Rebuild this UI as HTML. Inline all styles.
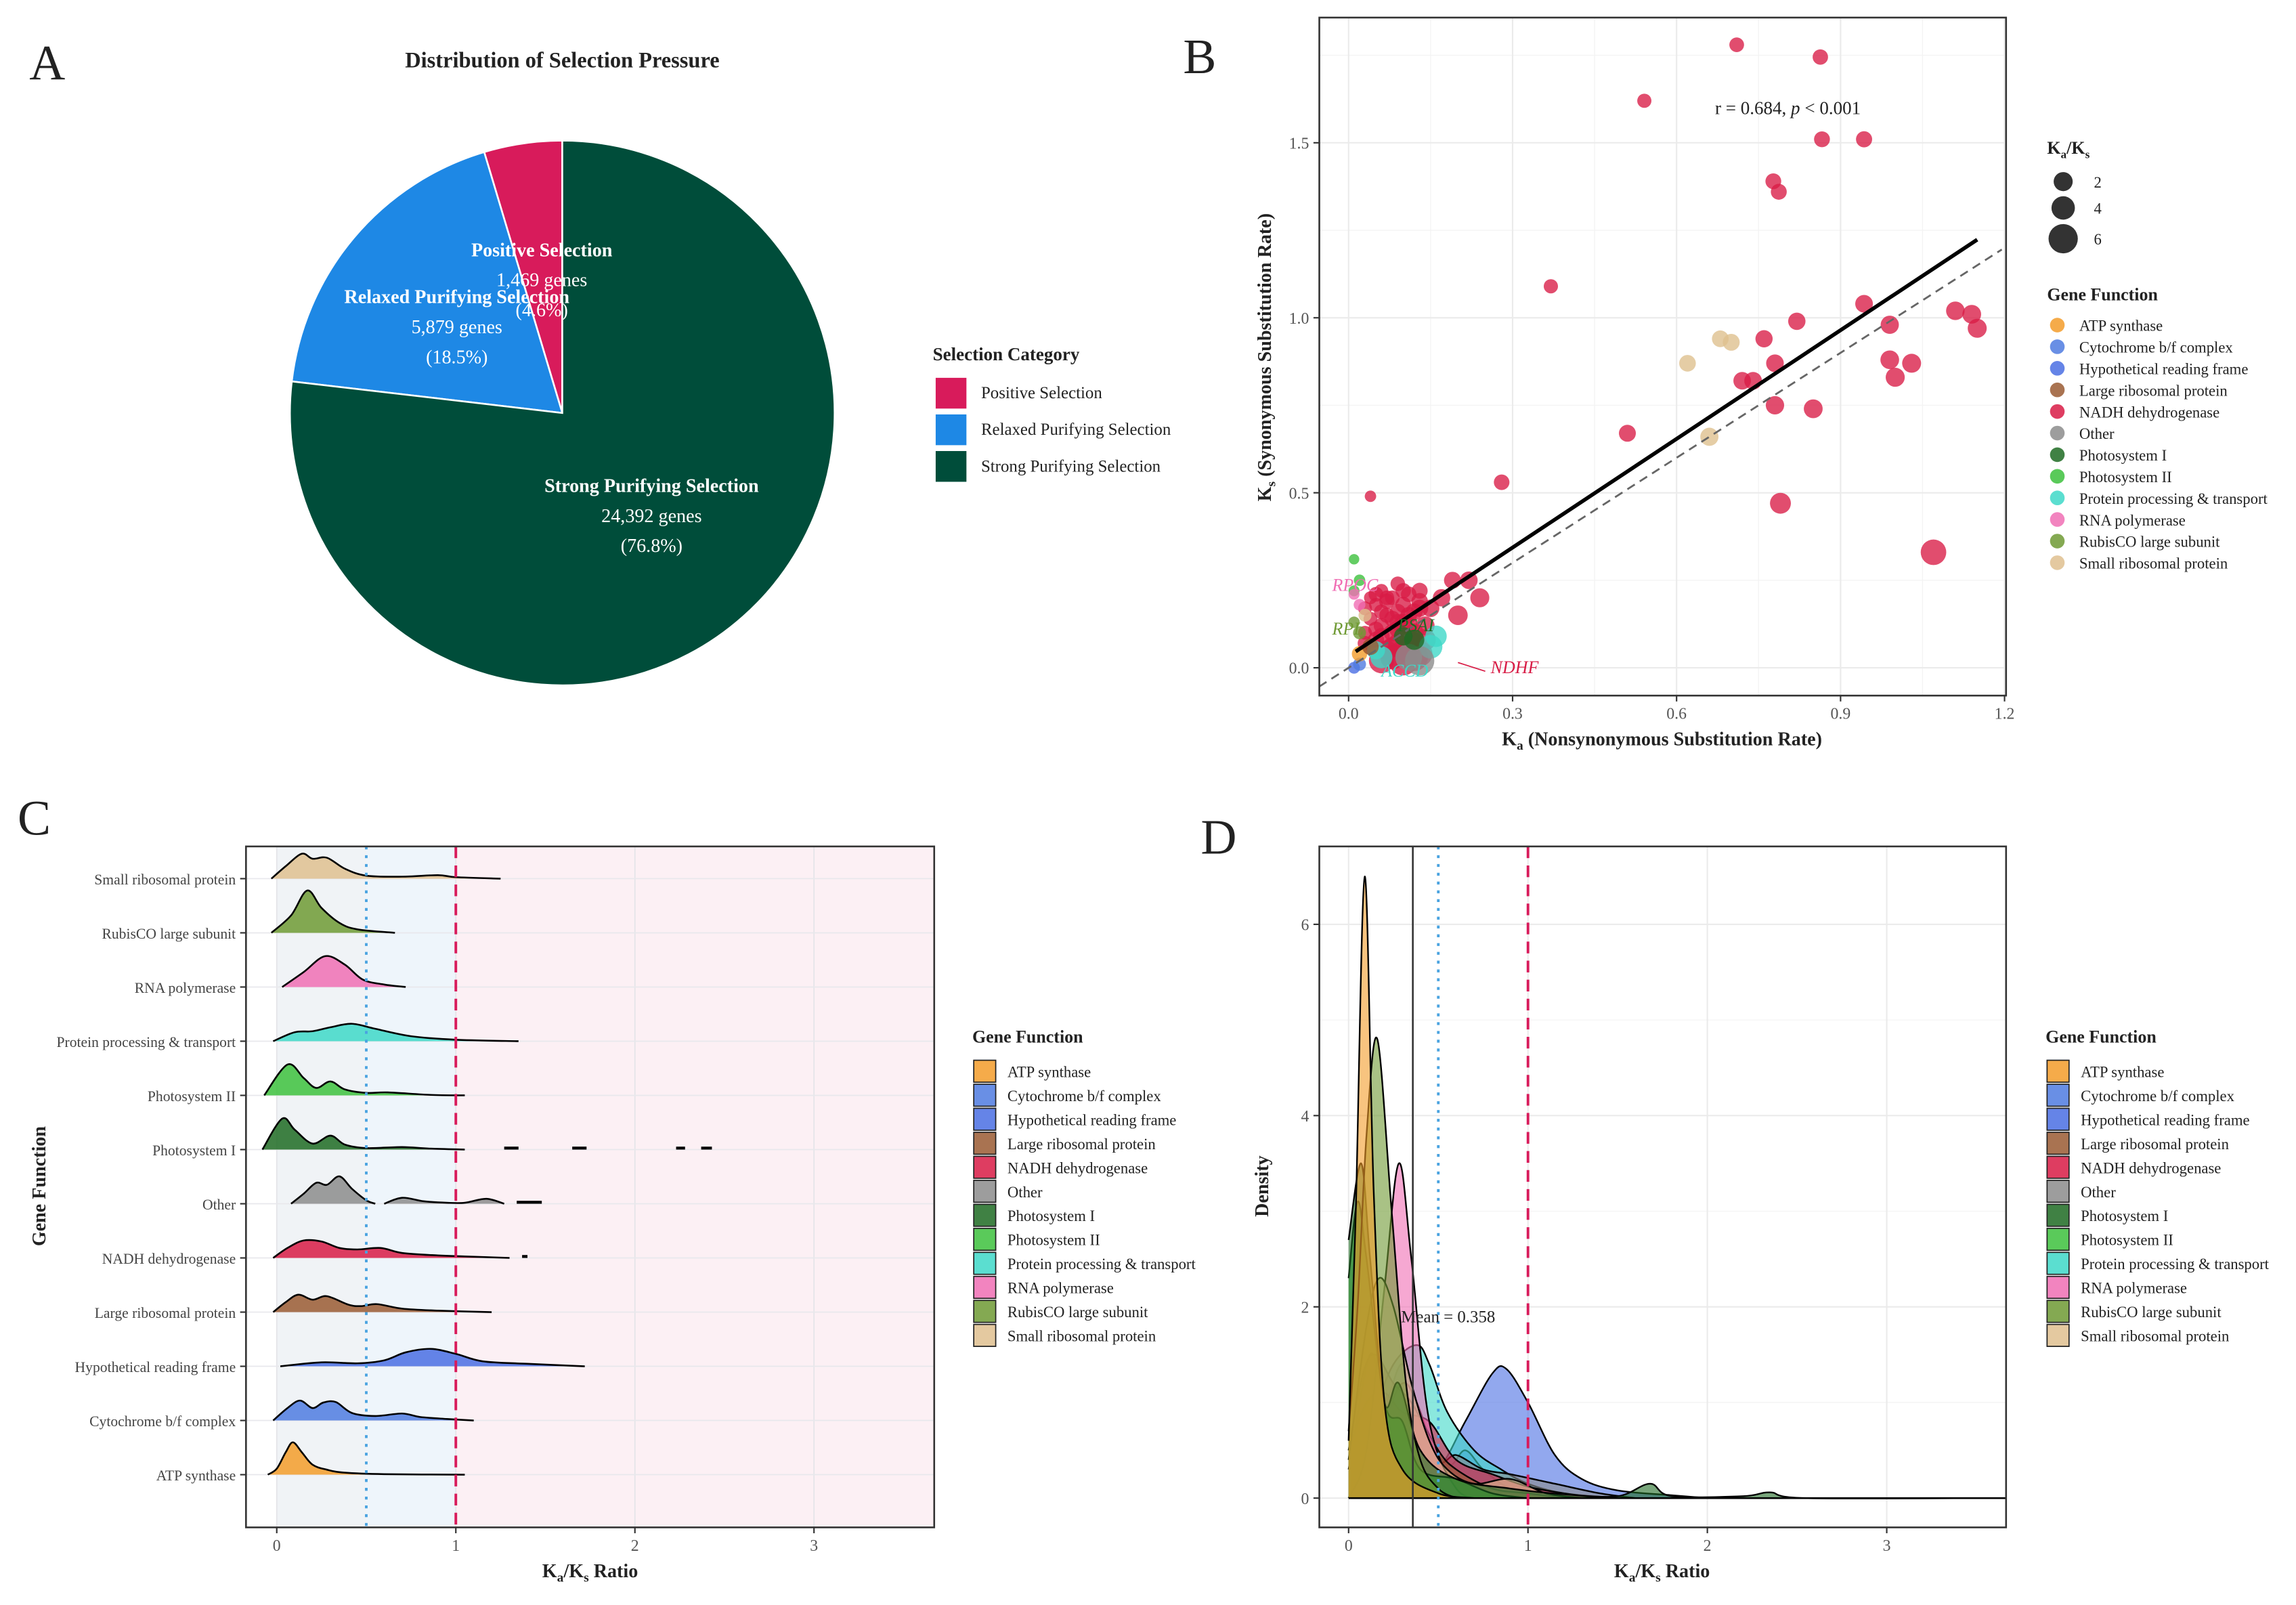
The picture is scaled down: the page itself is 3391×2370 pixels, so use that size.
<!DOCTYPE html>
<html><head><meta charset="utf-8"><style>
html,body{margin:0;padding:0;background:#fff}
svg{display:block}
text{font-family:"Liberation Serif",serif;fill:#222}
</style></head><body>
<svg id="fig" width="3391" height="2370" viewBox="0 0 1568 1096" preserveAspectRatio="none" xmlns="http://www.w3.org/2000/svg">
<rect width="1568" height="1096" fill="#fff"/>
<g id="pA"></g>
<g id="pB"></g>
<g id="pC"></g>
<g id="pD"></g>
</svg>
<script>
const NS="http://www.w3.org/2000/svg";
function mk(p,t,a,txt){const e=document.createElementNS(NS,t);for(const k in a)e.setAttribute(k,a[k]);if(txt!==undefined)e.textContent=txt;p.appendChild(e);return e;}

// ---------- DATA ----------
const pieCats=["Positive Selection","Relaxed Purifying Selection","Strong Purifying Selection"];
const pieCounts=[1469,5879,24392];
const piePct=["(4.6%)","(18.5%)","(76.8%)"];
const pieCountLabels=["1,469 genes","5,879 genes","24,392 genes"];
const pieColors=["#d81b5b","#1e88e5","#004d3a"];

const geneCats=["ATP synthase","Cytochrome b/f complex","Hypothetical reading frame","Large ribosomal protein","NADH dehydrogenase","Other","Photosystem I","Photosystem II","Protein processing & transport","RNA polymerase","RubisCO large subunit","Small ribosomal protein"];
const geneColors=["#f39c2a","#4f7be0","#4a6ee3","#9a5a32","#d81b45","#8c8c8c","#1e6b23","#3dc13d","#3ed8c8","#f06eb4","#6f9a34","#dfc08f"];

const bXTicks=[0,0.3,0.6,0.9,1.2];
const bXTickLabels=["0.0","0.3","0.6","0.9","1.2"];
const bYTicks=[0,0.5,1.0,1.5];
const bYTickLabels=["0.0","0.5","1.0","1.5"];
const bKa=[0.71,0.863,0.541,0.866,0.943,0.777,0.787,0.37,0.943,0.82,1.11,1.14,1.15,0.99,0.99,1.03,1.0,0.78,0.76,0.72,0.74,0.78,0.85,0.51,0.28,0.79,1.07,0.04,0.62,0.68,0.70,0.66,
0.04,0.05,0.06,0.07,0.08,0.09,0.1,0.11,0.12,0.13,0.06,0.08,0.1,0.12,0.05,0.07,0.09,0.11,0.13,0.14,0.04,0.03,0.1,0.12,0.15,0.17,0.19,0.22,0.24,0.2,0.06,0.08,0.11,0.13,0.09,
0.03,0.05,0.07,0.09,0.11,0.13,0.04,0.06,0.08,0.1,0.12,0.14,0.05,0.07,0.09,0.11,0.03,0.06,0.08,0.1,
0.01,0.02,0.01,0.16,0.15,0.05,0.06,0.01,0.02,0.13,0.11,0.12,0.1,0.01,0.02,0.01,0.02,0.02,0.03,0.04];
const bKs=[1.78,1.745,1.62,1.51,1.51,1.39,1.36,1.09,1.04,0.99,1.02,1.01,0.97,0.98,0.88,0.87,0.83,0.87,0.94,0.82,0.82,0.75,0.74,0.67,0.53,0.47,0.33,0.49,0.87,0.94,0.93,0.66,
0.2,0.18,0.22,0.15,0.2,0.24,0.18,0.21,0.16,0.22,0.12,0.1,0.13,0.1,0.08,0.05,0.07,0.06,0.04,0.12,0.14,0.1,0.02,0.03,0.17,0.2,0.25,0.25,0.2,0.15,0.02,0.03,0.09,0.19,0.16,
0.17,0.21,0.19,0.13,0.15,0.17,0.06,0.09,0.14,0.05,0.07,0.08,0.11,0.2,0.11,0.12,0.07,0.16,0.06,0.22,
0.31,0.25,0.22,0.09,0.06,0.05,0.03,0.0,0.01,0.02,0.03,0.08,0.09,0.21,0.18,0.13,0.1,0.04,0.15,0.06];
const bSize=[0.4,0.5,0.33,0.57,0.62,0.56,0.58,0.34,0.9,0.83,1.09,1.13,1.19,1.01,1.12,1.18,1.2,0.9,0.81,0.88,0.9,1.04,1.15,0.76,0.53,1.68,3.2,0.08,0.71,0.72,0.75,1.0,
0.2,0.28,0.27,0.47,0.4,0.38,0.56,0.52,0.75,0.59,0.5,0.8,0.77,1.2,0.63,1.4,1.3,1.8,3.2,1.17,0.29,0.3,5,4,0.88,0.85,0.76,0.88,1.2,1.33,3,2.7,1.2,0.68,0.56,
0.3,0.4,0.5,0.7,0.7,0.8,0.6,0.7,0.6,2,1.7,1.8,0.5,0.4,0.8,0.9,0.4,0.4,1.3,0.5,
0.03,0.08,0.05,1.8,2.5,1.0,2.0,0.1,0.2,6.5,3.7,1.5,1.1,0.05,0.1,0.08,0.2,0.5,0.2,0.67];
const bCat=[4,4,4,4,4,4,4,4,4,4,4,4,4,4,4,4,4,4,4,4,4,4,4,4,4,4,4,4,11,11,11,11,
4,4,4,4,4,4,4,4,4,4,4,4,4,4,4,4,4,4,4,4,4,4,4,4,4,4,4,4,4,4,4,4,4,4,4,
4,4,4,4,4,4,4,4,4,4,4,4,4,4,4,4,4,4,4,4,
7,7,7,8,8,8,8,2,1,5,5,6,6,9,9,10,10,0,11,3];
const bLabelNames=["RPOC","RPL","PSAI","ACCD","NDHF"];
const bLabelKa=[-0.03,-0.03,0.09,0.06,0.26];
const bLabelKs=[0.22,0.095,0.105,-0.025,-0.015];
const bLabelCat=[9,10,6,8,4];
const bFitIntercept=0.033, bFitSlope=1.035;

const cXTicks=[0,1,2,3];
const dXTicks=[0,1,2,3];
const dYTicks=[0,2,4,6];
const ridgeATP=[[-0.05,0],[0,0.12],[0.05,0.45],[0.09,0.65],[0.14,0.45],[0.2,0.2],[0.28,0.1],[0.38,0.04],[0.6,0.01],[1.05,0]];
const ridgeCyt=[[-0.02,0],[0.06,0.25],[0.13,0.4],[0.2,0.25],[0.26,0.36],[0.33,0.37],[0.42,0.15],[0.55,0.09],[0.7,0.14],[0.8,0.07],[0.95,0.03],[1.1,0]];
const ridgeHyp=[[0.02,0],[0.25,0.08],[0.45,0.06],[0.6,0.12],[0.72,0.28],[0.86,0.35],[1.0,0.25],[1.15,0.1],[1.4,0.05],[1.72,0]];
const ridgeLarge=[[-0.02,0],[0.05,0.2],[0.12,0.35],[0.2,0.25],[0.28,0.32],[0.4,0.15],[0.47,0.12],[0.56,0.16],[0.7,0.07],[0.9,0.03],[1.2,0]];
const ridgeNADH=[[-0.02,0],[0.06,0.2],[0.15,0.35],[0.25,0.33],[0.35,0.2],[0.45,0.17],[0.58,0.2],[0.7,0.1],[0.9,0.05],[1.05,0.03],[1.3,0]];
const ridgeOther=[[0.08,0],[0.15,0.2],[0.22,0.42],[0.28,0.38],[0.35,0.55],[0.42,0.3],[0.5,0.07],[0.55,0]];
const ridgeOther2=[[0.6,0],[0.7,0.12],[0.82,0.05],[0.95,0.02],[1.05,0.02],[1.17,0.1],[1.27,0]];
const ridgePSI=[[-0.08,0],[0.03,0.62],[0.1,0.4],[0.2,0.12],[0.3,0.28],[0.38,0.1],[0.5,0.03],[0.7,0.05],[0.85,0.02],[1.05,0]];
const ridgePSII=[[-0.07,0],[0.06,0.62],[0.15,0.35],[0.22,0.15],[0.3,0.28],[0.38,0.12],[0.5,0.05],[0.62,0.06],[0.86,0.01],[1.05,0]];
const ridgeProt=[[-0.02,0],[0.1,0.18],[0.2,0.2],[0.3,0.28],[0.42,0.35],[0.55,0.25],[0.75,0.1],[1.0,0.03],[1.35,0]];
const ridgeRNA=[[0.03,0],[0.15,0.3],[0.27,0.62],[0.38,0.45],[0.48,0.15],[0.6,0.05],[0.72,0]];
const ridgeRub=[[-0.03,0],[0.08,0.35],[0.17,0.85],[0.25,0.5],[0.35,0.2],[0.45,0.07],[0.66,0]];
const ridgeSmall=[[-0.03,0],[0.05,0.25],[0.14,0.5],[0.2,0.4],[0.28,0.42],[0.38,0.2],[0.5,0.06],[0.7,0.04],[0.9,0.07],[1.0,0.03],[1.25,0]];
const ridgeData=[ridgeATP,ridgeCyt,ridgeHyp,ridgeLarge,ridgeNADH,ridgeOther,ridgePSI,ridgePSII,ridgeProt,ridgeRNA,ridgeRub,ridgeSmall];
const ridgeTailStart=[1.27,1.65,2.23,2.37,1.37,1.34];
const ridgeTailEnd=[1.35,1.73,2.28,2.43,1.4,1.48];
const ridgeTailCat=[6,6,6,6,4,5];

const densATP=[[0,0.6],[0.04,3],[0.09,6.5],[0.14,3.2],[0.2,1],[0.3,0.3],[0.5,0.05],[0.7,0]];
const densCyt=[[0,0.3],[0.12,1.5],[0.2,1.0],[0.3,1.4],[0.4,0.8],[0.55,0.35],[0.65,0.5],[0.75,0.3],[0.9,0.1],[1.1,0]];
const densHyp=[[0.05,0],[0.3,0.05],[0.5,0.3],[0.65,0.8],[0.8,1.3],[0.88,1.35],[1.0,1.0],[1.15,0.45],[1.3,0.2],[1.5,0.08],[1.8,0.03],[2.0,0]];
const densLarge=[[0,0.5],[0.08,1.3],[0.15,1.5],[0.25,1.2],[0.35,1.0],[0.5,0.5],[0.6,0.3],[0.8,0.1],[1.0,0.05],[1.2,0]];
const densNADH=[[0,0.5],[0.1,1.0],[0.2,1.1],[0.3,0.9],[0.45,0.8],[0.6,0.4],[0.8,0.25],[1.0,0.12],[1.2,0.05],[1.4,0]];
const densOther=[[0.05,0],[0.2,0.8],[0.3,1.2],[0.38,1.0],[0.5,0.4],[0.6,0.45],[0.75,0.3],[0.9,0.25],[1.15,0.15],[1.4,0.05],[1.6,0]];
const densPSI=[[0,2.7],[0.07,3.5],[0.12,2.5],[0.2,1.0],[0.28,1.2],[0.4,0.5],[0.6,0.2],[0.9,0.1],[1.2,0.04],[1.5,0.02],[1.68,0.15],[1.8,0.02],[2.2,0.02],[2.35,0.06],[2.55,0],[3.6,0]];
const densPSII=[[0,2.3],[0.05,3.1],[0.1,2.5],[0.2,1.0],[0.3,0.8],[0.4,0.3],[0.6,0.2],[0.8,0.05],[1.0,0]];
const densProt=[[0,0.3],[0.12,0.8],[0.25,1.4],[0.38,1.6],[0.45,1.4],[0.55,0.9],[0.7,0.5],[0.85,0.3],[1.0,0.15],[1.2,0.05],[1.5,0]];
const densRNA=[[0,0],[0.1,0.5],[0.2,2.2],[0.28,3.5],[0.35,2.5],[0.45,0.8],[0.6,0.1],[0.75,0]];
const densRub=[[0,0.7],[0.05,2],[0.1,3.8],[0.16,4.8],[0.24,3],[0.32,1.2],[0.4,0.4],[0.5,0.1],[0.6,0]];
const densSmall=[[0,0.4],[0.1,1.8],[0.17,2.3],[0.25,2.0],[0.35,1.2],[0.45,0.6],[0.55,0.3],[0.7,0.15],[0.9,0.2],[1.1,0.05],[1.3,0]];
const densData=[densATP,densCyt,densHyp,densLarge,densNADH,densOther,densPSI,densPSII,densProt,densRNA,densRub,densSmall];
const meanRatio=0.358;

// ---------- helpers ----------
function smoothPath(pts){
  let d="M"+pts[0][0]+","+pts[0][1];
  for(let i=0;i<pts.length-1;i++){
    const p0=pts[Math.max(0,i-1)],p1=pts[i],p2=pts[i+1],p3=pts[Math.min(pts.length-1,i+2)];
    const c1=[p1[0]+(p2[0]-p0[0])/6,p1[1]+(p2[1]-p0[1])/6];
    const c2=[p2[0]-(p3[0]-p1[0])/6,p2[1]-(p3[1]-p1[1])/6];
    d+="C"+c1[0]+","+c1[1]+" "+c2[0]+","+c2[1]+" "+p2[0]+","+p2[1];
  }
  return d;
}
function txt(p,x,y,s,opt){opt=opt||{};return mk(p,"text",Object.assign({x:x,y:y,"font-size":opt.fs||11,"text-anchor":opt.anchor||"start","font-weight":opt.bold?"bold":"normal"},opt.extra||{}),s);}

// ---------- Panel A ----------
(function(){
const g=document.getElementById("pA");
const L=mk(g,"text",{x:20,y:54,"font-size":34},"A");

const t=txt(g,384,46,"Distribution of Selection Pressure",{fs:15,bold:true,anchor:"middle"});

const cx=384,cy=282,r=186,tot=pieCounts.reduce((a,b)=>a+b,0);
let a0=0;
const labelPos=[[370,175],[312,207],[445,336]];
pieCounts.forEach((c,i)=>{
  const a1=a0+c/tot*2*Math.PI;
  const x0=cx-r*Math.sin(a0),y0=cy-r*Math.cos(a0),x1=cx-r*Math.sin(a1),y1=cy-r*Math.cos(a1);
  const large=(a1-a0)>Math.PI?1:0;
  const p=mk(g,"path",{d:`M${cx},${cy}L${x0},${y0}A${r},${r} 0 ${large} 0 ${x1},${y1}Z`,fill:pieColors[i],stroke:"#fff","stroke-width":1.2});
  
  a0=a1;
});
pieCounts.forEach((c,i)=>{
  const [lx,ly]=labelPos[i];
  [pieCats[i],pieCountLabels[i],piePct[i]].forEach((s,j)=>{
    const e=txt(g,lx,ly+j*20.5,s,{fs:13,anchor:"middle",bold:j==0,extra:{style:"fill:#fff"}});
    
  });
});
const lt=txt(g,637,246,"Selection Category",{fs:12.5,bold:true});

pieCats.forEach((s,i)=>{
  const k=mk(g,"rect",{x:639,y:258+i*25,width:21,height:21,fill:pieColors[i]});
  
  const e=txt(g,670,272+i*25,s,{fs:11.5});
  
});
})();

// ---------- Panel B ----------
(function(){
const g=document.getElementById("pB");
const X0=901,X1=1370,Y0=12,Y1=475;
const sx=v=>921+v*373.3, sy=v=>456-v*239;
const L=mk(g,"text",{x:808,y:50,"font-size":34},"B");

mk(g,"rect",{x:X0,y:Y0,width:X1-X0,height:Y1-Y0,fill:"#fff"});
[0.15,0.45,0.75,1.05].forEach(v=>mk(g,"line",{x1:sx(v),x2:sx(v),y1:Y0,y2:Y1,stroke:"#f3f3f3","stroke-width":0.6}));
[0.25,0.75,1.25,1.75].forEach(v=>mk(g,"line",{x1:X0,x2:X1,y1:sy(v),y2:sy(v),stroke:"#f3f3f3","stroke-width":0.6}));
bXTicks.forEach((v,i)=>{
  mk(g,"line",{x1:sx(v),x2:sx(v),y1:Y0,y2:Y1,stroke:"#ebebeb","stroke-width":1});
  mk(g,"line",{x1:sx(v),x2:sx(v),y1:Y1,y2:Y1+4,stroke:"#333"});
  const e=txt(g,sx(v),Y1+16,bXTickLabels[i],{fs:11,anchor:"middle",extra:{style:"fill:#555"}});
  
});
bYTicks.forEach((v,i)=>{
  mk(g,"line",{x1:X0,x2:X1,y1:sy(v),y2:sy(v),stroke:"#ebebeb","stroke-width":1});
  mk(g,"line",{x1:X0-4,x2:X0,y1:sy(v),y2:sy(v),stroke:"#333"});
  const e=txt(g,X0-7,sy(v)+4,bYTickLabels[i],{fs:11,anchor:"end",extra:{style:"fill:#555"}});
  
});
const pts=mk(g,"g",{});

bKa.forEach((ka,i)=>{
  const r=3+Math.sqrt(bSize[i])*3.2;
  const c=mk(pts,"circle",{cx:sx(ka),cy:sy(bKs[i]),r:Math.min(r,10),fill:geneColors[bCat[i]],"fill-opacity":bCat[i]==4?0.78:0.8});
  
});
const dl=mk(g,"line",{x1:sx(-0.054),y1:sy(-0.054),x2:sx(1.195),y2:sy(1.195),stroke:"#666","stroke-width":1.3,"stroke-dasharray":"6,4"});

const fl=mk(g,"line",{x1:sx(0.013),y1:sy(bFitIntercept+bFitSlope*0.013),x2:sx(1.15),y2:sy(bFitIntercept+bFitSlope*1.15),stroke:"#000","stroke-width":2.6});

bLabelNames.forEach((s,i)=>{
  const e=txt(g,sx(bLabelKa[i]),sy(bLabelKs[i]),s,{fs:12,extra:{"font-style":"italic",style:"fill:"+geneColors[bLabelCat[i]]}});
  
});
mk(g,"line",{x1:sx(0.2),y1:sy(0.015),x2:sx(0.25),y2:sy(-0.01),stroke:"#d81b45","stroke-width":0.8});
mk(g,"rect",{x:X0,y:Y0,width:X1-X0,height:Y1-Y0,fill:"none",stroke:"#333","stroke-width":1.2});
const an=txt(g,1221,78,"",{fs:12.5,anchor:"middle"});
mk(an,"tspan",{},"r = 0.684, ");mk(an,"tspan",{"font-style":"italic"},"p");mk(an,"tspan",{}," < 0.001");

const xt=txt(g,1135,509,"",{fs:13,bold:true,anchor:"middle"});
mk(xt,"tspan",{},"K");mk(xt,"tspan",{"font-size":9,dy:3},"a");mk(xt,"tspan",{dy:-3}," (Nonsynonymous Substitution Rate)");

const yt=mk(g,"text",{x:0,y:0,transform:"translate(868,244) rotate(-90)","text-anchor":"middle","font-size":13,"font-weight":"bold"});
mk(yt,"tspan",{},"K");mk(yt,"tspan",{"font-size":9,dy:3},"s");mk(yt,"tspan",{dy:-3}," (Synonymous Substitution Rate)");

const st=txt(g,1398,105,"",{fs:12,bold:true});
mk(st,"tspan",{},"K");mk(st,"tspan",{"font-size":8,dy:3},"a");mk(st,"tspan",{dy:-3},"/K");mk(st,"tspan",{"font-size":8,dy:3},"s");

[[124,6.5,"2"],[142,8,"4"],[163,10,"6"]].forEach(a=>{
  const c=mk(g,"circle",{cx:1409,cy:a[0],r:a[1],fill:"#333"});
  
  txt(g,1430,a[0]+4,a[2],{fs:10.5});
});
const gt=txt(g,1398,205,"Gene Function",{fs:12,bold:true});

geneCats.forEach((s,i)=>{
  const y=222+i*14.75;
  const c=mk(g,"circle",{cx:1405,cy:y,r:5,fill:geneColors[i],"fill-opacity":0.85});
  
  const e=txt(g,1420,y+4,s,{fs:10.5});
  
});
})();

// ---------- Panel C ----------
(function(){
const g=document.getElementById("pC");
const X0=168,X1=638,Y0=578,Y1=1043;
const sx=v=>189+v*122.3;
const rowY=i=>1007-i*37, hScale=34;
const L=mk(g,"text",{x:12,y:570,"font-size":34},"C");

mk(g,"rect",{x:X0,y:Y0,width:X1-X0,height:Y1-Y0,fill:"#fff"});
mk(g,"rect",{x:sx(0),y:Y0,width:sx(0.5)-sx(0),height:Y1-Y0,fill:"#f0f3f6"});
mk(g,"rect",{x:sx(0.5),y:Y0,width:sx(1)-sx(0.5),height:Y1-Y0,fill:"#eef5fb"});
mk(g,"rect",{x:sx(1),y:Y0,width:X1-sx(1),height:Y1-Y0,fill:"#fcf0f4"});
cXTicks.forEach(v=>{
  mk(g,"line",{x1:sx(v),x2:sx(v),y1:Y0,y2:Y1,stroke:"#e4e4e8","stroke-width":0.8});
  mk(g,"line",{x1:sx(v),x2:sx(v),y1:Y1,y2:Y1+4,stroke:"#333"});
  const e=txt(g,sx(v),Y1+16,String(v),{fs:11,anchor:"middle",extra:{style:"fill:#555"}});
  
});
geneCats.forEach((s,i)=>{
  mk(g,"line",{x1:X0,x2:X1,y1:rowY(i),y2:rowY(i),stroke:"#e8e8ec","stroke-width":0.8});
  mk(g,"line",{x1:X0-4,x2:X0,y1:rowY(i),y2:rowY(i),stroke:"#333"});
  const e=txt(g,X0-7,rowY(i)+4,s,{fs:10,anchor:"end",extra:{style:"fill:#444"}});
  
});
for(let i=geneCats.length-1;i>=0;i--){
  const pts=ridgeData[i].map(p=>[sx(p[0]),rowY(i)-p[1]*hScale]);
  let d=smoothPath(pts);
  const f=mk(g,"path",{d:d+"Z",fill:geneColors[i],"fill-opacity":0.85,stroke:"none"});
  
  mk(g,"path",{d:d,fill:"none",stroke:"#000","stroke-width":1.2});
  if(i==5){
    const p2=ridgeOther2.map(p=>[sx(p[0]),rowY(i)-p[1]*hScale]);
    const d2=smoothPath(p2);
    mk(g,"path",{d:d2+"Z",fill:geneColors[i],"fill-opacity":0.85});
    mk(g,"path",{d:d2,fill:"none",stroke:"#000","stroke-width":1.2});
  }
}
ridgeTailStart.forEach((s,k)=>{
  const y=rowY(ridgeTailCat[k])-1;
  const e=mk(g,"line",{x1:sx(s),x2:sx(ridgeTailEnd[k]),y1:y,y2:y,stroke:"#000","stroke-width":2});
  
});
const l1=mk(g,"line",{x1:sx(0.5),x2:sx(0.5),y1:Y0,y2:Y1,stroke:"#4aa3e0","stroke-width":1.8,"stroke-dasharray":"2,4"});

const l2=mk(g,"line",{x1:sx(1),x2:sx(1),y1:Y0,y2:Y1,stroke:"#d81b5b","stroke-width":1.8,"stroke-dasharray":"8,5"});

mk(g,"rect",{x:X0,y:Y0,width:X1-X0,height:Y1-Y0,fill:"none",stroke:"#333","stroke-width":1.2});
const xt=txt(g,403,1077,"",{fs:13,bold:true,anchor:"middle"});
mk(xt,"tspan",{},"K");mk(xt,"tspan",{"font-size":9,dy:3},"a");mk(xt,"tspan",{dy:-3},"/K");mk(xt,"tspan",{"font-size":9,dy:3},"s");mk(xt,"tspan",{dy:-3}," Ratio");

const yt=mk(g,"text",{x:0,y:0,transform:"translate(31,810) rotate(-90)","text-anchor":"middle","font-size":13,"font-weight":"bold"},"Gene Function");

legend(g,664);
})();

function legend(g,x){
  const t=txt(g,x,712,"Gene Function",{fs:12,bold:true});
  
  geneCats.forEach((s,i)=>{
    const y=724+i*16.4;
    const k=mk(g,"rect",{x:x+1,y:y,width:15,height:15,fill:geneColors[i],"fill-opacity":0.85,stroke:"#222","stroke-width":0.8});
    
    const e=txt(g,x+24,y+11.5,s,{fs:10.5});
    
  });
}

// ---------- Panel D ----------
(function(){
const g=document.getElementById("pD");
const X0=901,X1=1370,Y0=578,Y1=1043;
const sx=v=>921+v*122.5, sy=v=>1023-v*65.3;
const L=mk(g,"text",{x:820,y:583,"font-size":34},"D");

mk(g,"rect",{x:X0,y:Y0,width:X1-X0,height:Y1-Y0,fill:"#fff"});
[1,3,5].forEach(v=>mk(g,"line",{x1:X0,x2:X1,y1:sy(v),y2:sy(v),stroke:"#f4f4f4","stroke-width":0.6}));
dXTicks.forEach(v=>{
  mk(g,"line",{x1:sx(v),x2:sx(v),y1:Y0,y2:Y1,stroke:"#ebebeb","stroke-width":1});
  mk(g,"line",{x1:sx(v),x2:sx(v),y1:Y1,y2:Y1+4,stroke:"#333"});
  const e=txt(g,sx(v),Y1+16,String(v),{fs:11,anchor:"middle",extra:{style:"fill:#555"}});
  
});
dYTicks.forEach(v=>{
  mk(g,"line",{x1:X0,x2:X1,y1:sy(v),y2:sy(v),stroke:"#ebebeb","stroke-width":1});
  mk(g,"line",{x1:X0-4,x2:X0,y1:sy(v),y2:sy(v),stroke:"#333"});
  const e=txt(g,X0-7,sy(v)+4,String(v),{fs:11,anchor:"end",extra:{style:"fill:#555"}});
  
});
const order=[2,1,8,5,4,3,9,11,7,6,10,0];
order.forEach(i=>{
  const pts=densData[i].map(p=>[sx(p[0]),sy(p[1])]);
  const first=densData[i][0],last=densData[i][densData[i].length-1];
  const d=smoothPath(pts);
  const f=mk(g,"path",{d:`M${sx(first[0])},${sy(0)}L${pts[0][0]},${pts[0][1]}`+d.replace(/^M[^C]*/,"")+`L${sx(last[0])},${sy(0)}Z`,fill:geneColors[i],"fill-opacity":0.6,stroke:"none"});
  
  mk(g,"path",{d:d,fill:"none",stroke:"#000","stroke-width":1.1});
});
mk(g,"line",{x1:sx(0),x2:X1,y1:sy(0),y2:sy(0),stroke:"#000","stroke-width":1.2});
const ml=mk(g,"line",{x1:sx(meanRatio),x2:sx(meanRatio),y1:Y0,y2:Y1,stroke:"#333","stroke-width":1.2});

const l1=mk(g,"line",{x1:sx(0.5),x2:sx(0.5),y1:Y0,y2:Y1,stroke:"#4aa3e0","stroke-width":1.8,"stroke-dasharray":"2,4"});

const l2=mk(g,"line",{x1:sx(1),x2:sx(1),y1:Y0,y2:Y1,stroke:"#d81b5b","stroke-width":1.8,"stroke-dasharray":"8,5"});

const mt=txt(g,sx(meanRatio)-8,903,"Mean = "+meanRatio.toFixed(3),{fs:11.5});

mk(g,"rect",{x:X0,y:Y0,width:X1-X0,height:Y1-Y0,fill:"none",stroke:"#333","stroke-width":1.2});
const xt=txt(g,1135,1077,"",{fs:13,bold:true,anchor:"middle"});
mk(xt,"tspan",{},"K");mk(xt,"tspan",{"font-size":9,dy:3},"a");mk(xt,"tspan",{dy:-3},"/K");mk(xt,"tspan",{"font-size":9,dy:3},"s");mk(xt,"tspan",{dy:-3}," Ratio");

const yt=mk(g,"text",{x:0,y:0,transform:"translate(866,810) rotate(-90)","text-anchor":"middle","font-size":13,"font-weight":"bold"},"Density");

legend(g,1397);
})();
</script>
</body></html>
